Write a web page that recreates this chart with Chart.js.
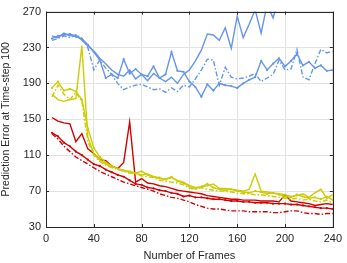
<!DOCTYPE html>
<html><head><meta charset="utf-8">
<script src="https://cdn.jsdelivr.net/npm/chart.js@4.4.1/dist/chart.umd.min.js"></script>
<style>html,body{margin:0;padding:0;background:#fff}#wrap{width:347px;height:263px}</style>
</head><body><div id="wrap"><canvas id="c" width="347" height="263"></canvas></div>
<script>
const frames = [5,10,15,20,25,30,35,40,45,50,55,60,65,70,75,80,85,90,95,100,105,110,115,120,125,130,135,140,145,150,155,160,165,170,175,180,185,190,195,200,205,210,215,220,225,230,235,240];
const xTicks = [0,40,80,120,160,200,240];
const yTicks = [30,70,110,150,190,230,270];

const blueSolid = [243,241,246,243,244,238,232,226,218,212,205,200,198,205,195,200,193,201,196,192,197,190,200,205,215,227,245,244,238,252,229,265,241,256,272,246,278,263,285,290,292,288,295,300,298,305,302,310];
const blueDot = [240,243,244,245,242,240,233,225,216,196,200,196,217,201,206,200,198,209,196,200,225,204,203,192,186,175,189,182,190,188,187,185,190,194,197,215,205,212,218,209,215,223,210,214,207,210,204,205];
const blueDashDot = [238,240,243,241,244,240,230,205,216,207,200,190,183,186,188,189,186,183,184,180,185,181,188,186,195,205,217,216,188,208,197,195,196,198,201,192,196,200,216,205,206,228,197,194,212,228,224,226];

const yellowSolid = [178,172,170,172,173,232,130,112,105,100,97,95,93,91,90,88,89,86,84,83,85,82,80,76,74,75,76,78,73,73,72,71,70,72,89,70,69,68,67,66,64,65,67,63,68,72,62,66];
const yellowDot = [185,192,182,184,181,172,140,118,108,102,98,95,93,92,90,92,88,86,85,83,86,81,79,75,73,75,78,74,72,71,72,70,69,68,70,69,67,68,66,64,63,66,64,62,63,61,64,60];
const yellowDashDot = [175,188,178,172,180,170,125,110,103,99,96,94,92,90,89,87,86,85,82,81,80,79,77,73,72,74,72,71,70,70,69,68,67,67,66,66,65,64,63,62,61,62,60,61,59,58,60,57];

const redSolid = [152,148,146,145,125,134,117,112,105,104,98,95,102,147,80,84,79,78,76,75,73,71,70,69,68,67,65,64,63,62,61,61,60,60,60,59,59,59,58,66,59,58,57,56,54,55,56,55];
const redDot = [135,131,124,120,114,110,105,100,98,94,91,88,86,82,78,77,74,73,71,70,68,67,64,65,63,63,62,61,61,60,59,59,58,58,57,57,57,56,56,56,55,55,54,53,52,51,51,50];
const redDashDot = [134,128,120,114,108,104,100,96,92,89,86,83,80,78,76,74,72,70,67,65,63,62,60,58,55,53,51,50,50,49,48,48,48,47,47,47,47,46,46,47,48,48,46,45,45,44,45,45];

const BLUE = 'rgb(100,149,237)', YEL = 'rgb(204,204,0)', RED = 'rgb(210,0,0)';
const pts = arr => frames.map((f,i)=>({x:f,y:arr[i]}));
function ds(arr,color,style){
  return {data:pts(arr),borderColor:color,backgroundColor:color,borderWidth:1.4,
    borderDash: style==='dashdot'?[5,2,1.5,2]:[],
    pointRadius: style==='dot'?1.1:0, pointBorderWidth:0, pointHoverRadius:0,
    tension:0, fill:false};
}
const F = '"Liberation Sans", Arial, Helvetica, sans-serif';
const INK = '#262626';
const boxPlugin = {
  id:'box',
  afterDraw(chart){
    const {ctx, chartArea:a, scales:{x,y}} = chart;
    ctx.save();
    ctx.strokeStyle = INK; ctx.lineWidth = 1;
    ctx.strokeRect(Math.round(a.left)+0.5, Math.round(a.top)+0.5, Math.round(a.right-a.left), Math.round(a.bottom-a.top));
    ctx.beginPath();
    xTicks.forEach(t=>{const px=Math.round(x.getPixelForValue(t))+0.5;
      ctx.moveTo(px,a.bottom);ctx.lineTo(px,a.bottom-3);ctx.moveTo(px,a.top);ctx.lineTo(px,a.top+3);});
    yTicks.forEach(t=>{const py=Math.round(y.getPixelForValue(t))+0.5;
      ctx.moveTo(a.left,py);ctx.lineTo(a.left+3,py);ctx.moveTo(a.right,py);ctx.lineTo(a.right-3,py);});
    ctx.stroke();
    ctx.restore();
  }
};
new Chart(document.getElementById('c'),{
  type:'line',
  data:{datasets:[
    ds(blueSolid,BLUE,'solid'),ds(blueDot,BLUE,'dot'),ds(blueDashDot,BLUE,'dashdot'),
    ds(yellowSolid,YEL,'solid'),ds(yellowDot,YEL,'dot'),ds(yellowDashDot,YEL,'dashdot'),
    ds(redSolid,RED,'solid'),ds(redDot,RED,'dot'),ds(redDashDot,RED,'dashdot')
  ]},
  options:{
    responsive:false, animation:false, devicePixelRatio:1,
    layout:{padding:{top:9,right:12,left:0,bottom:0}},
    plugins:{legend:{display:false},tooltip:{enabled:false}},
    scales:{
      x:{type:'linear',min:0,max:240,
        afterBuildTicks(s){s.ticks=xTicks.map(v=>({value:v}));},
        afterFit(s){s.height=36;},
        grid:{color:'#e3e3e3',drawTicks:false},border:{display:false},
        ticks:{padding:5,color:INK,font:{family:F,size:11},maxRotation:0},
        title:{display:true,text:'Number of Frames',color:INK,font:{family:F,size:11},padding:{top:2,bottom:0}}},
      y:{type:'linear',min:30,max:270,
        afterBuildTicks(s){s.ticks=yTicks.map(v=>({value:v}));},
        afterFit(s){s.width=46;},
        grid:{color:'#e3e3e3',drawTicks:false},border:{display:false},
        ticks:{padding:5,color:INK,font:{family:F,size:11}},
        title:{display:true,text:'Prediction Error at Time-step 100',color:INK,font:{family:F,size:10.5},padding:{top:0,bottom:2}}}
    }
  },
  plugins:[boxPlugin]
});
</script></body></html>
